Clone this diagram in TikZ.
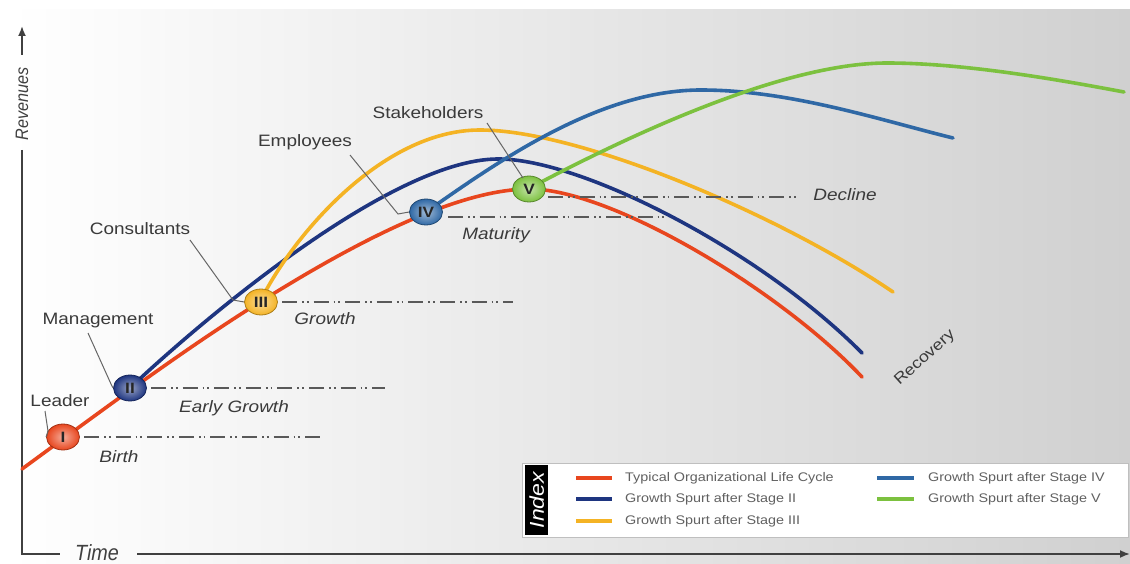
\documentclass[tikz,border=0pt]{standalone}
\usepackage{fontspec}
\setmainfont{Liberation Sans}
\newfontfamily\labf[FakeStretch=1.15]{Liberation Sans}
\newfontfamily\axf[FakeStretch=0.9]{Liberation Sans}
\usetikzlibrary{arrows.meta,shapes.geometric}
\definecolor{cred}{HTML}{E8461E}
\definecolor{cnavy}{HTML}{1E3580}
\definecolor{cyel}{HTML}{F4B324}
\definecolor{csteel}{HTML}{2F68A5}
\definecolor{cgreen}{HTML}{7CC13F}
\definecolor{txt}{HTML}{3A3A3A}
\definecolor{bgR}{HTML}{D0D0D0}
\definecolor{axc}{HTML}{404040}
\tikzset{
 curve/.style={line width=3.6pt, line cap=round},
 stage/.style={ellipse, minimum width=33pt, minimum height=26pt, inner sep=0pt,
   draw=#1!70!black, line width=0.8pt, inner color=#1!45!white, outer color=#1,
   font=\labf\bfseries\fontsize{15}{15}\selectfont, text=black!85},
 lbl/.style={font=\labf\fontsize{16.5}{18}\selectfont, text=txt, inner sep=0pt},
 phase/.style={font=\labf\itshape\fontsize{16.5}{18}\selectfont, text=txt, inner sep=0pt},
 ptr/.style={draw=black!60, line width=1pt},
 dashdot/.style={draw=black!65, line width=1.6pt, dash pattern=on 15pt off 5pt on 1.8pt off 3pt on 1.8pt off 5pt},
 axis/.style={draw=axc, line width=1.8pt},
 legline/.style={line width=3.5pt},
 legtxt/.style={font=\labf\fontsize{12.5}{13}\selectfont, text=black!62, anchor=west, inner sep=0pt},
}
\begin{document}
\begin{tikzpicture}[x=1pt,y=-1pt]
\useasboundingbox (0,0) rectangle (1130,564);
\fill[white] (0,0) rectangle (1130,564);
\shade[left color=white, right color=bgR] (10,10) rectangle (1130,564);

% axes
\node[font=\axf\itshape\fontsize{18}{18}\selectfont, text=axc, rotate=90, inner sep=0pt] (rev) at (22,104) {Revenues};
\node[font=\axf\itshape\fontsize{22}{22}\selectfont, text=axc, inner sep=0pt] (time) at (97,553) {Time};
\coordinate (ytop) at (22,26);
\coordinate (yup) at (22,55);
\coordinate (ylow) at (22,150);
\coordinate (corner) at (22,554);
\coordinate (xl) at (60,554);
\coordinate (xr) at (137,554);
\coordinate (xend) at (1130,554);
\draw[axis] (ylow) -- (corner) -- (xl);
\draw[axis,-{Latex[length=10pt,width=8pt]}] (yup) -- (ytop);
\draw[axis,-{Latex[length=10pt,width=8pt]}] (xr) -- (xend);

% curve anchor points
\coordinate (r0) at (22,469);
\coordinate (P3) at (260,302);
\coordinate (P5) at (528,189);
\coordinate (rE) at (862,377);
\coordinate (nT) at (497,159);
\coordinate (nE) at (862,353);
\coordinate (yT) at (480,130);
\coordinate (yE) at (893,292);
\coordinate (P4) at (426,212);
\coordinate (sT) at (701,90);
\coordinate (sE) at (953,138);
\coordinate (gT) at (887,63);
\coordinate (gE) at (1124,92);
\coordinate (P2) at (130,388);

% curves
\draw[curve, cred] (r0) .. controls (100,412) and (180,352) .. (P3)
   .. controls (340,252) and (450,190) .. (P5)
   .. controls (610,188) and (780,290) .. (rE);
\draw[curve, cnavy] (P2) .. controls (200,322) and (390,160) .. (nT)
   .. controls (580,158) and (760,250) .. (nE);
\draw[curve, cyel] (P3) .. controls (290,240) and (380,130) .. (yT)
   .. controls (580,130) and (780,215) .. (yE);
\draw[curve, csteel] (P4) .. controls (500,160) and (600,90) .. (sT)
   .. controls (790,90) and (880,120) .. (sE);
\draw[curve, cgreen] (P5) .. controls (620,140) and (780,63) .. (gT)
   .. controls (960,63) and (1050,78) .. (gE);

% stage markers
\node[stage=cred] (s1) at (63,437) {I};
\node[stage=cnavy] (s2) at (P2) {II};
\node[stage=cyel] (s3) at (261,302) {III};
\node[stage=csteel] (s4) at (P4) {IV};
\node[stage=cgreen] (s5) at (529,189) {V};

% dash-dot phase lines
\coordinate (a1) at (84,437); \coordinate (e1) at (325,437);
\coordinate (a2) at (151,388); \coordinate (e2) at (385,388);
\coordinate (a3) at (282,302); \coordinate (e3) at (513,302);
\coordinate (a4) at (448,217); \coordinate (e4) at (667,217);
\coordinate (a5) at (548,197); \coordinate (e5) at (797,197);
\draw[dashdot] (a1) -- (e1);
\draw[dashdot] (a2) -- (e2);
\draw[dashdot] (a3) -- (e3);
\draw[dashdot] (a4) -- (e4);
\draw[dashdot] (a5) -- (e5);

% phase labels
\node[phase] (b1) at (119,457) {Birth};
\node[phase] (b2) at (234,408) {Early Growth};
\node[phase] (b3) at (325,319) {Growth};
\node[phase] (b4) at (496,235) {Maturity};
\node[phase] (b5) at (845,195) {Decline};
\node[lbl, rotate=42, font=\labf\fontsize{15.5}{16}\selectfont] (rec) at (925,358) {Recovery};

% actor labels and pointers
\node[lbl] (l1) at (60,401) {Leader};
\node[lbl] (l2) at (98,321) {Management};
\node[lbl] (l3) at (140,229) {Consultants};
\node[lbl] (l4) at (305,142) {Employees};
\node[lbl] (l5) at (428,113) {Stakeholders};
\coordinate (p1) at (45,411); \coordinate (q1) at (48,431);
\coordinate (p2) at (88,333); \coordinate (q2) at (111,384);
\coordinate (p3) at (190,240); \coordinate (q3) at (233,300);
\coordinate (p4) at (350,155); \coordinate (q4) at (398,214);
\coordinate (p5) at (487,123); \coordinate (q5) at (523,178);
\draw[ptr] (p1) -- (q1) -- (s1.west);
\draw[ptr] (p2) -- (q2) -- (s2.west);
\draw[ptr] (p3) -- (q3) -- (s3.west);
\draw[ptr] (p4) -- (q4) -- (s4.west);
\draw[ptr] (p5) -- (q5);

% legend
\node[draw=black!25, fill=white, minimum width=606pt, minimum height=74pt, anchor=north west, inner sep=0pt] (leg) at (522,463) {};
\node[fill=black, minimum width=23pt, minimum height=70pt, anchor=north west, inner sep=0pt] (idx) at (525,465) {};
\node[rotate=90, text=white, font=\labf\itshape\fontsize{20}{20}\selectfont, inner sep=0pt] (idxt) at (idx.center) {Index};
\coordinate (g1a) at (576,478); \coordinate (g1b) at (612,478);
\coordinate (g2a) at (576,499); \coordinate (g2b) at (612,499);
\coordinate (g3a) at (576,521); \coordinate (g3b) at (612,521);
\coordinate (g4a) at (877,478); \coordinate (g4b) at (914,478);
\coordinate (g5a) at (877,499); \coordinate (g5b) at (914,499);
\draw[legline, cred] (g1a) -- (g1b);
\draw[legline, cnavy] (g2a) -- (g2b);
\draw[legline, cyel] (g3a) -- (g3b);
\draw[legline, csteel] (g4a) -- (g4b);
\draw[legline, cgreen] (g5a) -- (g5b);
\node[legtxt] (t1) at (625,478) {Typical Organizational Life Cycle};
\node[legtxt] (t2) at (625,499) {Growth Spurt after Stage II};
\node[legtxt] (t3) at (625,521) {Growth Spurt after Stage III};
\node[legtxt] (t4) at (928,478) {Growth Spurt after Stage IV};
\node[legtxt] (t5) at (928,499) {Growth Spurt after Stage V};
\end{tikzpicture}
\end{document}
